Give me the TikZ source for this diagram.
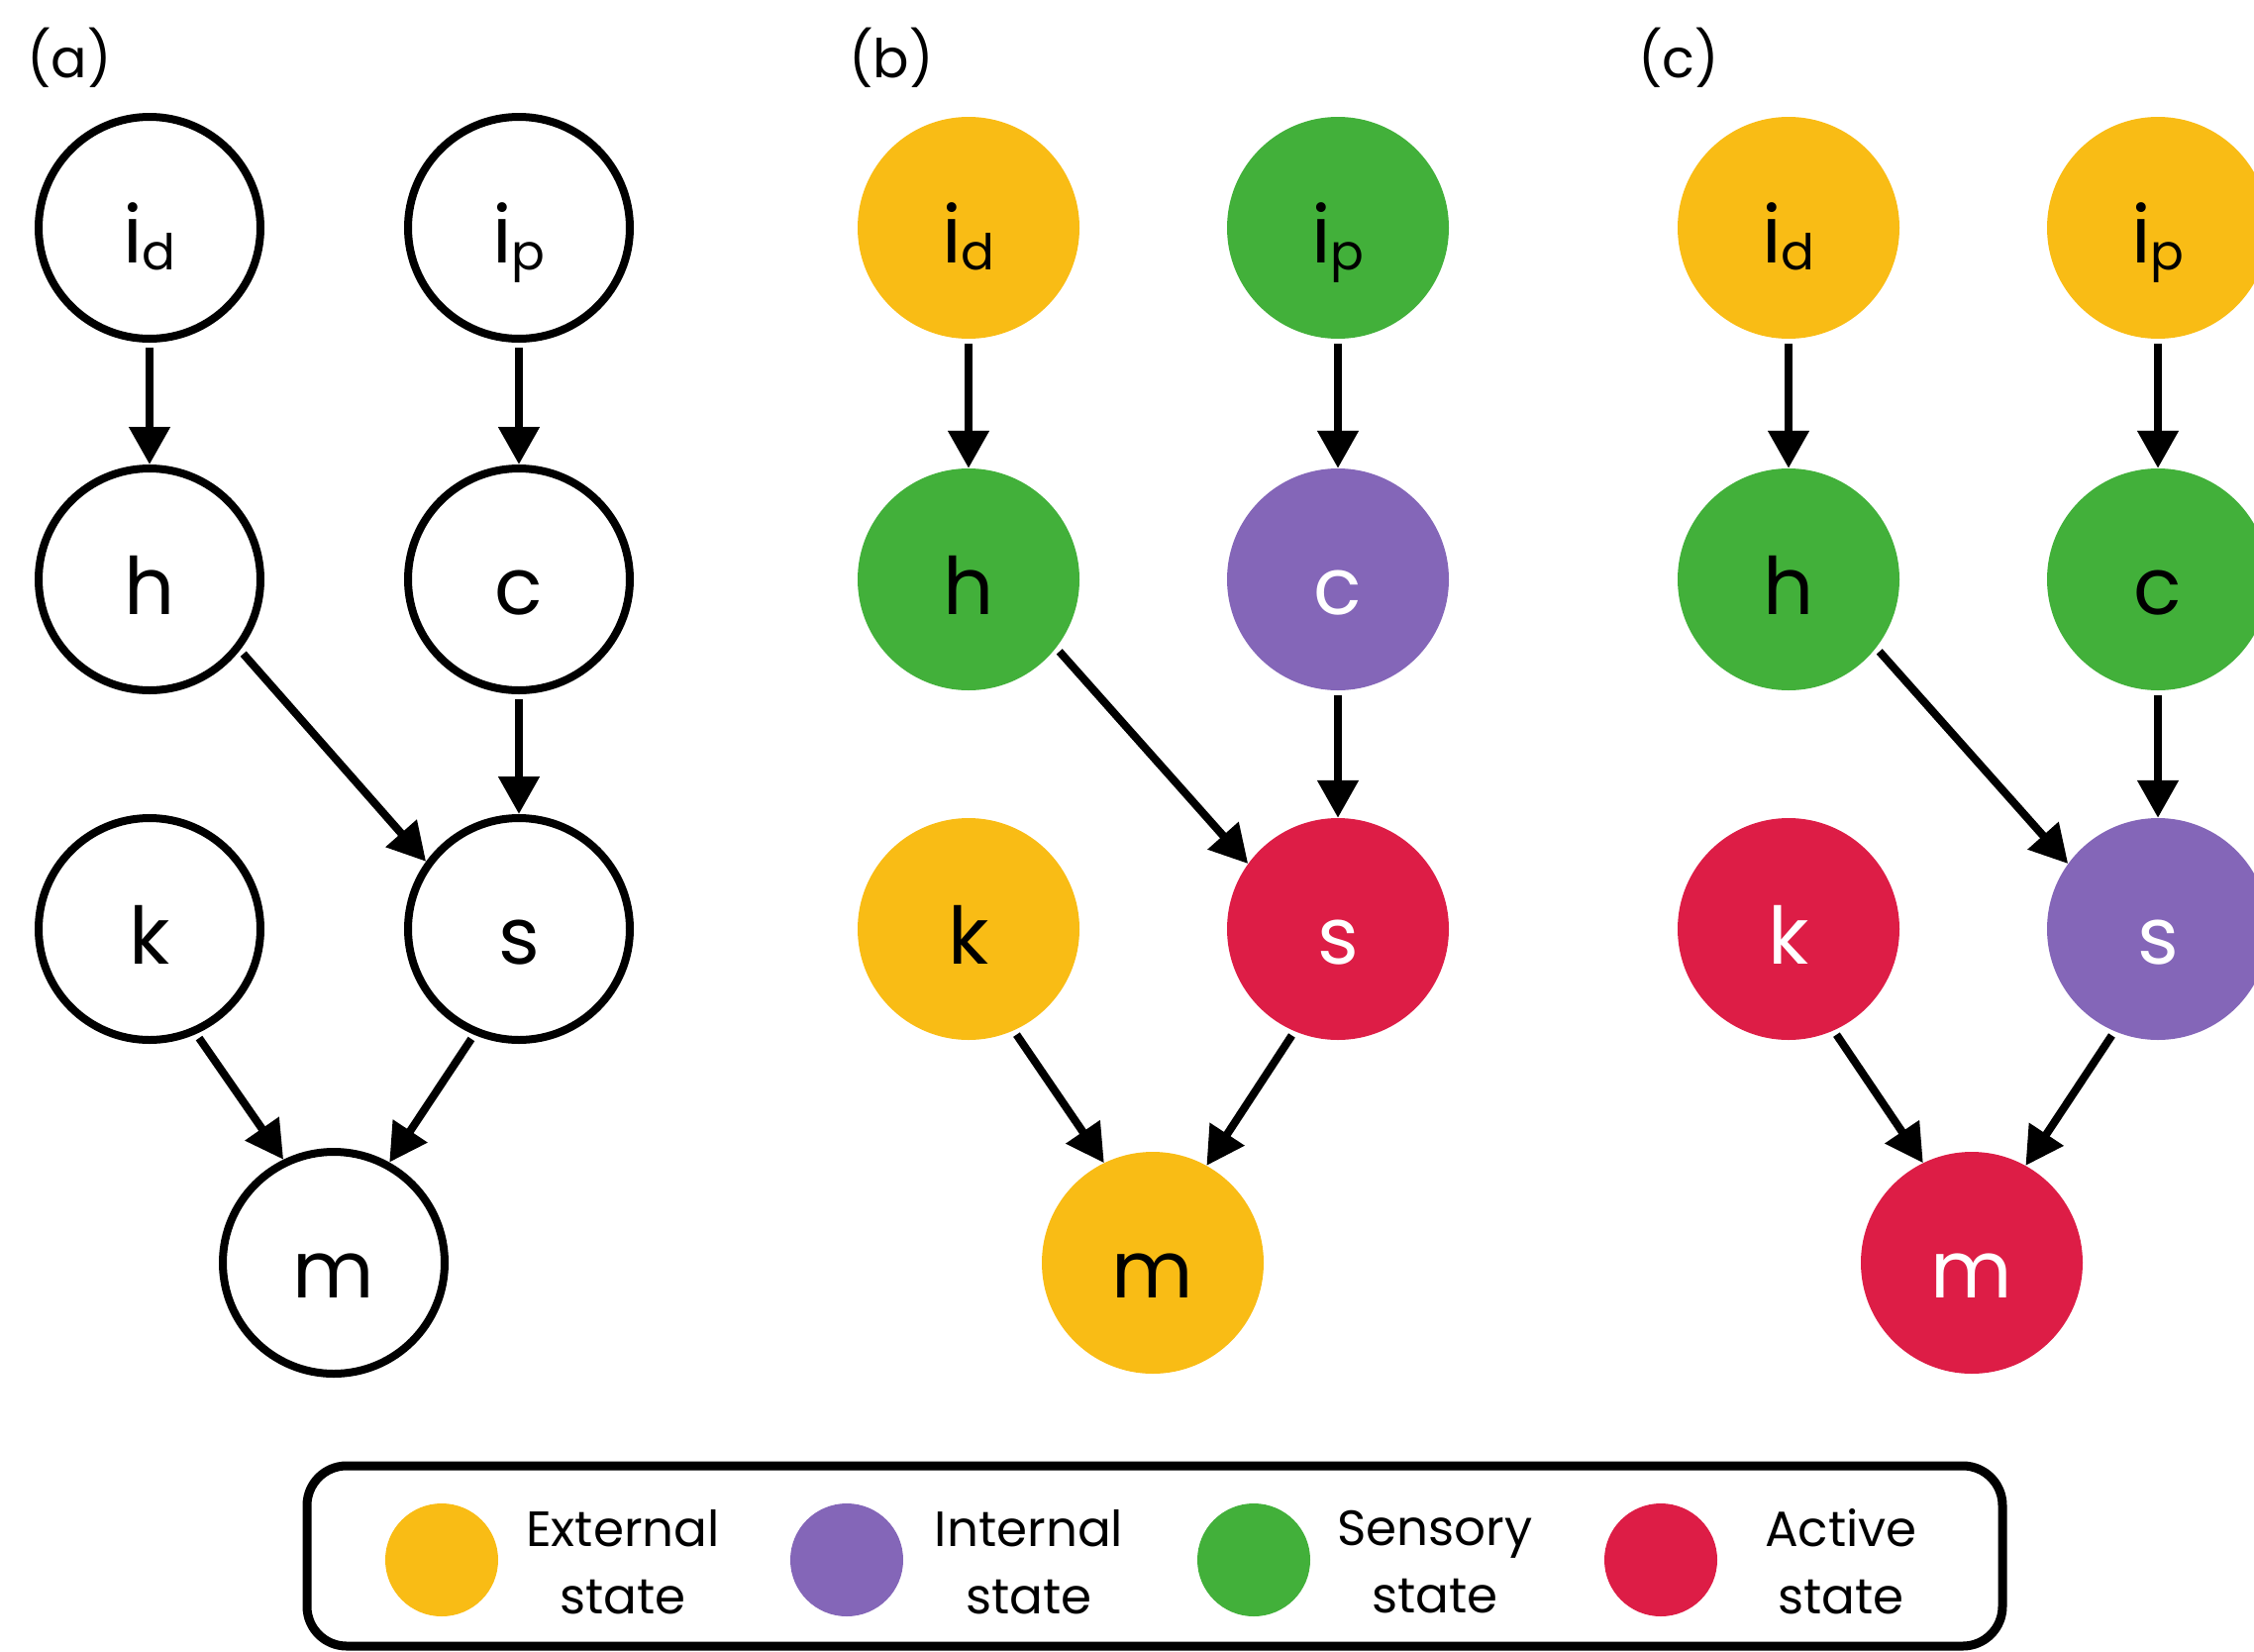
\documentclass[tikz,border=0pt]{standalone}
\usepackage{fontspec}
\setmainfont{Poppins}
\usetikzlibrary{arrows.meta}
\definecolor{cext}{HTML}{F9BC15}
\definecolor{cint}{HTML}{8466B8}
\definecolor{csen}{HTML}{42B03A}
\definecolor{cact}{HTML}{DD1D46}
\newcommand{\sub}[2]{#1\raisebox{-7pt}{\fontsize{50}{50}\selectfont #2}}
\begin{document}
\begin{tikzpicture}[x=1pt,y=-1pt,
  st/.style={circle,minimum size=224pt,inner sep=0pt,text height=70pt,text depth=0pt,font=\fontsize{80}{80}\selectfont},
  wst/.style={st,draw=black,line width=8pt,fill=white},
  fst/.style={st,fill=#1},
  arr/.style={line width=8pt,-{Triangle[length=38pt,width=40pt]},shorten <=5pt},
  lab/.style={font=\fontsize{54}{54}\selectfont,anchor=center},
  leg/.style={font=\fontsize{50}{68}\selectfont,align=center},
  legc/.style={circle,minimum size=114pt,inner sep=0pt,fill=#1}]
\useasboundingbox (0,0) rectangle (2276,1668);
% panel labels
\node[lab] (la) at (70,58) {(a)};
\node[lab] (lb) at (900,58) {(b)};
\node[lab] (lc) at (1695,58) {(c)};
% panel (a)
\node[wst] (aid) at (151,230) {\sub{i}{d}};
\node[wst] (aip) at (524,230) {\sub{i}{p}};
\node[wst] (ah) at (151,585) {h};
\node[wst] (ac) at (524,585) {c};
\node[wst] (ak) at (151,938) {k};
\node[wst] (as) at (524,938) {s};
\node[wst] (am) at (337,1275) {m};
% panel (b)
\node[fst=cext] (bid) at (978,230) {\sub{i}{d}};
\node[fst=csen] (bip) at (1351,230) {\sub{i}{p}};
\node[fst=csen] (bh) at (978,585) {h};
\node[fst=cint,text=white] (bc) at (1351,585) {c};
\node[fst=cext] (bk) at (978,938) {k};
\node[fst=cact,text=white] (bs) at (1351,938) {s};
\node[fst=cext] (bm) at (1164,1275) {m};
% panel (c)
\node[fst=cext] (cid) at (1806,230) {\sub{i}{d}};
\node[fst=cext] (cip) at (2179,230) {\sub{i}{p}};
\node[fst=csen] (ch) at (1806,585) {h};
\node[fst=csen] (cc) at (2179,585) {c};
\node[fst=cact,text=white] (ck) at (1806,938) {k};
\node[fst=cint,text=white] (cs) at (2179,938) {s};
\node[fst=cact,text=white] (cm) at (1991,1275) {m};
% arrows
\foreach \p in {a,b,c}{
  \draw[arr] (\p id) -- (\p h);
  \draw[arr] (\p ip) -- (\p c);
  \draw[arr] (\p h.-38) -- (\p s.144);
  \draw[arr] (\p c) -- (\p s);
  \draw[arr] (\p k.-66) -- (\p m.116);
  \draw[arr] (\p s.-113) -- (\p m.61);
}
% legend
\node[draw=black,line width=9pt,rounded corners=40pt,minimum width=1712pt,minimum height=182pt,inner sep=0pt] (box) at (1166,1571) {};
\node[legc=cext] (l1) at (446,1575) {};
\node[legc=cint] (l2) at (855,1575) {};
\node[legc=csen] (l3) at (1266,1575) {};
\node[legc=cact] (l4) at (1677,1575) {};
\node[leg] (t1) at (629,1577) {External\\state};
\node[leg] (t2) at (1039,1577) {Internal\\state};
\node[leg] (t3) at (1449,1577) {Sensory\\state};
\node[leg] (t4) at (1859,1577) {Active\\state};
\end{tikzpicture}
\end{document}
